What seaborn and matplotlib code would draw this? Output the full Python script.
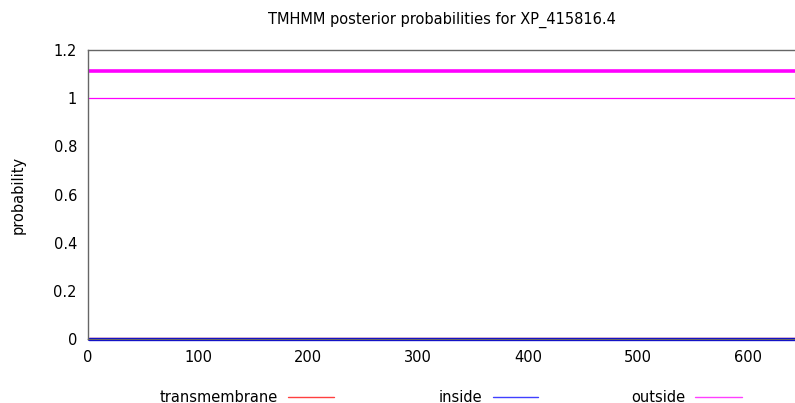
import matplotlib
matplotlib.use("Agg")
import matplotlib.pyplot as plt
import pandas as pd
import seaborn as sns
from matplotlib.lines import Line2D

# sequence ends and posterior probabilities
residues = [1, 643]
transmembrane = [0.0, 0.0]
inside = [0.0, 0.0]
outside = [1.0, 1.0]
# predicted topology bar (outside over the whole sequence)
topology_outside = [1.114, 1.114]

x_ticks = [0, 100, 200, 300, 400, 500, 600]
y_ticks = [0, 0.2, 0.4, 0.6, 0.8, 1, 1.2]
y_labels = ["0", "0.2", "0.4", "0.6", "0.8", "1", "1.2"]

sns.set_style("white")
plt.rcParams["font.family"] = ["DejaVu Sans"]
plt.rcParams["text.color"] = "black"
plt.rcParams["axes.labelcolor"] = "black"

FS = 10.5

fig = plt.figure(figsize=(7.95, 4.03), dpi=100)
ax = fig.add_axes([0.1107, 0.1588, 0.8893, 0.7171])

df = pd.DataFrame({"pos": residues, "tm": transmembrane, "inside": inside,
                   "outside": outside, "topo": topology_outside})

sns.lineplot(data=df, x="pos", y="outside", color="#ff00ff", lw=0.9, ax=ax)
sns.lineplot(data=df, x="pos", y="topo", color="#ff00ff", lw=2.6, ax=ax)
sns.lineplot(data=df, x="pos", y="tm", color="#ff0000", lw=2.4, ax=ax)
sns.lineplot(data=df, x="pos", y="inside", color="#0000dd", lw=2.4, ax=ax, clip_on=False)

ax.set_xlim(0, 643)
ax.set_ylim(0, 1.2)
ax.set_xticks(x_ticks)
ax.set_xticklabels([str(t) for t in x_ticks], fontsize=FS, color="black")
ax.set_yticks(y_ticks)
ax.set_yticklabels(y_labels, fontsize=FS, color="black")
ax.tick_params(direction="in", length=4, width=1, color="black", pad=8)
ax.set_xlabel("")
ax.set_ylabel("probability", fontsize=FS, labelpad=20)
ax.set_title("TMHMM posterior probabilities for XP_415816.4", fontsize=FS, pad=19)

for side in ["left", "top", "bottom"]:
    ax.spines[side].set_color("#666666")
    ax.spines[side].set_linewidth(1)
ax.spines["right"].set_visible(False)

# key below the plot, text to the left of each sample line
key = [("transmembrane", "#ff4040", 278, 288, 334),
       ("inside", "#4040ff", 482, 493, 538),
       ("outside", "#ff40ff", 685, 695, 742)]
ky = 1 - 397 / 403
for label, col, tx, x0, x1 in key:
    fig.text(tx / 795, ky, label, ha="right", va="center", fontsize=FS)
    fig.add_artist(Line2D([x0 / 795, x1 / 795], [ky, ky], color=col, lw=1,
                          transform=fig.transFigure))

fig.savefig("out.png", dpi=100)
